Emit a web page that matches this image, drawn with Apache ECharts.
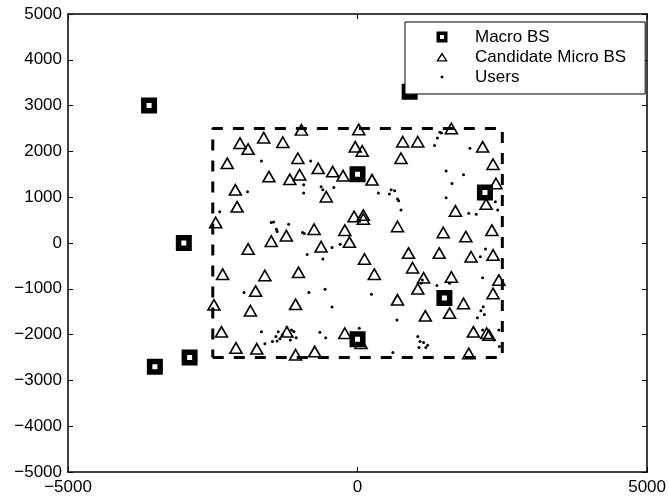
<!DOCTYPE html>
<html>
<head>
<meta charset="utf-8">
<script src="https://cdn.jsdelivr.net/npm/echarts@6/dist/echarts.min.js"></script>
<style>html,body{margin:0;padding:0;background:#fff}#c{width:669px;height:498px}</style>
</head>
<body>
<div id="c"></div>
<script>
// ---- data ----
const seriesNames = ['Macro BS', 'Candidate Micro BS', 'Users'];
const xTicks = [-5000, 0, 5000];
const yTicks = [-5000, -4000, -3000, -2000, -1000, 0, 1000, 2000, 3000, 4000, 5000];
const areaRect = [[-2500, -2500], [2500, -2500], [2500, 2500], [-2500, 2500], [-2500, -2500]];
const macroBS = [
  [-3600, 3000], [-3000, 0], [-2900, -2500], [-3500, -2700], [0, 1500],
  [900, 3300], [2200, 1100], [1500, -1200], [0, -2100]
];
const microBS = [
  [-970, 2470], [20, 2480], [-2030, 2180], [-1890, 2050], [-1620, 2300], [-1290, 2200],
  [-2250, 1740], [-1030, 1850], [-680, 1630], [-430, 1560], [-250, 1470], [-1530, 1450],
  [-1170, 1390], [-1000, 1490], [-2110, 1160], [-2080, 790], [-540, 1010], [-2450, 450],
  [-60, 580], [-750, 300], [-220, 280], [-1230, 160], [-1490, 40], [-1890, -130],
  [-630, -80], [-140, 20],
  [1620, 2500], [-40, 2100], [80, 2010], [780, 2210], [1040, 2210], [750, 1850],
  [2160, 2100], [2340, 1720], [250, 1380], [2390, 1300], [2220, 850], [1690, 700],
  [100, 610], [100, 525], [690, 360], [1480, 230], [1870, 140], [2320, 280],
  [-2330, -680], [-1600, -710], [-1020, -640], [-1760, -1050], [-2480, -1350], [-1850, -1480],
  [-1070, -1340], [-2350, -1940], [-1220, -1940], [-220, -1970], [-2100, -2290], [-1740, -2310],
  [-1070, -2440], [-740, -2370],
  [120, -350], [880, -220], [1410, -220], [1960, -300], [2340, -260], [290, -680],
  [950, -540], [1140, -760], [1620, -740], [1040, -1000], [2440, -810], [2340, -1100],
  [690, -1240], [1830, -1320], [1170, -1590], [1590, -1530], [2000, -1940], [2230, -1970],
  [2270, -2010], [60, -2190], [1920, -2410]
];
const users = [
  [-1660, 1790], [-810, 1790], [-930, 1270], [-930, 1090], [-630, 1230], [-600, 1160],
  [-410, 1210], [-1900, 1120], [-2380, 680], [-1490, 450], [-1450, 460], [-1190, 410],
  [-1400, 300], [-1390, 250], [-950, 230], [-920, 210],
  [1420, 2420], [1450, 2400], [1380, 2290], [1330, 2130], [1940, 2070], [1530, 1570],
  [1830, 1490], [1630, 1300], [1530, 990], [1920, 650], [2050, 630], [2380, 900],
  [2420, 720], [360, 1090], [550, 1070], [580, 1160], [640, 1140], [690, 960],
  [710, 920], [750, 720],
  [-870, -250], [-600, -350], [-440, -100], [-300, -30], [-1960, -1080], [-840, -1080],
  [-560, -1010], [-440, -1400], [-1660, -1940], [-1370, -1940], [-1410, -2040], [-1340, -2090],
  [-1390, -2140], [-1470, -2150], [-1600, -2200], [-1300, -2010], [-1220, -1850], [-1140, -1900],
  [-1100, -1935], [-1160, -2120], [-1060, -2070], [-650, -1950], [-550, -2070],
  [2210, -130], [2120, -300], [1120, -810], [1100, -880], [1590, -880], [1370, -930],
  [240, -1120], [2160, -760], [680, -1680], [2170, -1390], [2130, -1480], [2190, -1560],
  [2070, -1630], [2440, -1900], [2160, -1900], [2360, -2120], [2450, -2260], [1040, -2040],
  [1080, -2150], [1140, -2170], [1060, -2280], [1180, -2280], [1210, -2230], [610, -2390],
  [30, -1860]
];

// ---- chart ----
const FONT = "'Liberation Sans', Arial, Helvetica, sans-serif";
const fmt = v => String(v).replace('-', '\u2212');
const BOUNDS = 'M0 0L0 0ZM56 14L56 14Z';
const icons = [
  'path://' + BOUNDS + 'M22.5 1.5L33.5 1.5L33.5 12.5L22.5 12.5ZM26 5L26 9L30 9L30 5Z',
  'path://' + BOUNDS + 'M28 2.2L33.8 11.6L22.2 11.6ZM28 4.9L24.6 10.3L31.4 10.3Z',
  'path://' + BOUNDS + 'M26.7 5.7L29.3 5.7L29.3 8.3L26.7 8.3Z'
];
function axisCommon(ticks, showLabel, pos) {
  return {
    type: 'value', position: pos,
    min: ticks[0], max: ticks[ticks.length - 1], interval: ticks[1] - ticks[0],
    axisLine: { show: true, onZero: false, lineStyle: { color: '#000', width: 1.5 } },
    axisTick: { show: true, inside: true, length: 5, lineStyle: { color: '#000', width: 1 } },
    axisLabel: { show: showLabel, color: '#000', fontFamily: FONT, fontSize: 17, formatter: fmt,
                 margin: (pos === 'left' ? 6 : 7) },
    splitLine: { show: false }
  };
}
const chart = echarts.init(document.getElementById('c'), null, { renderer: 'canvas' });
chart.setOption({
  animation: false,
  backgroundColor: '#fff',
  grid: { left: 68, right: 21, top: 14, bottom: 26 },
  xAxis: [axisCommon(xTicks, true, 'bottom'), axisCommon(xTicks, false, 'top')],
  yAxis: [axisCommon(yTicks, true, 'left'), axisCommon(yTicks, false, 'right')],
  legend: {
    z: 20, zlevel: 0,
    orient: 'vertical', left: 405, top: 22,
    padding: [6.5, 19, 8.5, 9], itemGap: 3, itemWidth: 56, itemHeight: 14,
    borderColor: '#000', borderWidth: 1, backgroundColor: '#fff', borderRadius: 0,
    selectedMode: false,
    textStyle: { color: '#000', fontFamily: FONT, fontSize: 17 },
    data: seriesNames.map((n, i) => ({ name: n, icon: icons[i],
      itemStyle: { color: '#000', borderWidth: 0, opacity: 1 } }))
  },
  series: [
    { type: 'line', data: areaRect, symbol: 'none', silent: true, z: 2,
      lineStyle: { color: '#000', width: 3, type: [11, 10] } },
    { name: seriesNames[2], type: 'scatter', data: users, symbol: 'circle', symbolSize: 3, z: 2,
      itemStyle: { color: '#000', opacity: 1 } },
    { name: seriesNames[1], type: 'scatter', data: microBS, symbol: 'triangle', symbolSize: [12, 10.5], z: 2,
      itemStyle: { color: 'rgba(0,0,0,0)', borderColor: '#000', borderWidth: 1.6, opacity: 1 } },
    { name: seriesNames[0], type: 'scatter', data: macroBS, symbol: 'rect', symbolSize: 10.5, z: 3,
      itemStyle: { color: '#fff', borderColor: '#000', borderWidth: 5.5, opacity: 1 } }
  ]
});
</script>
</body>
</html>
